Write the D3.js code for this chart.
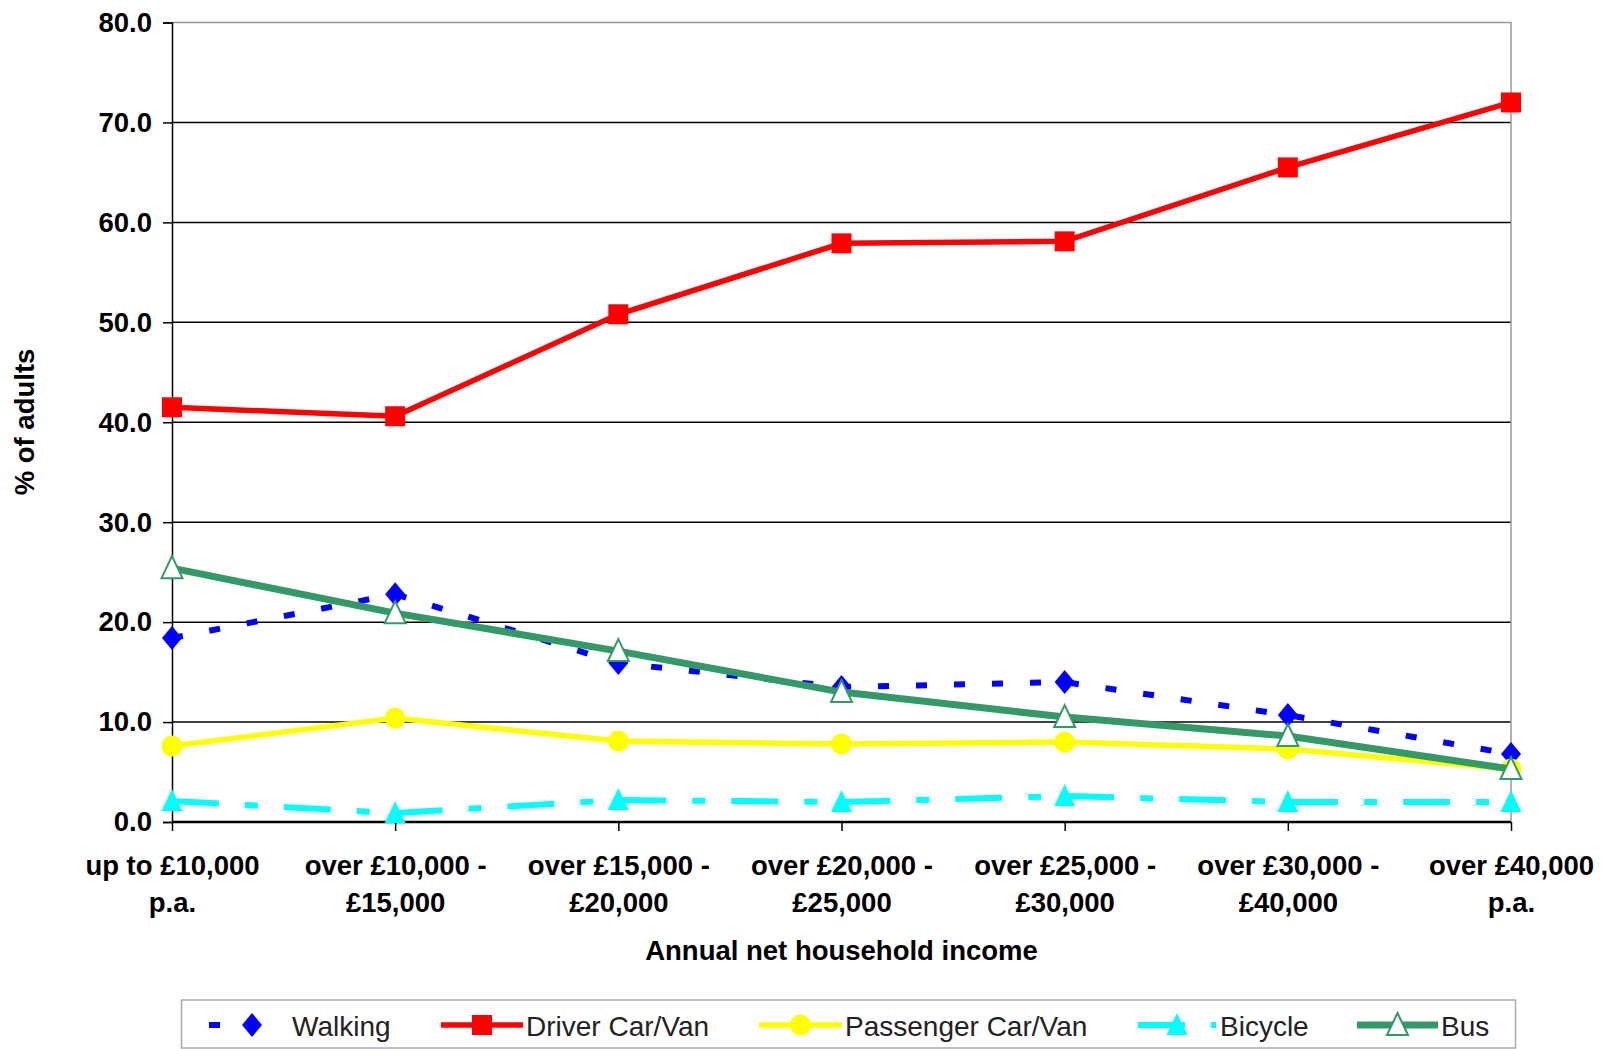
<!DOCTYPE html>
<html>
<head>
<meta charset="utf-8">
<script src="https://cdn.jsdelivr.net/npm/d3@7"></script>
<style>
  body { margin: 0; background: #fff; }
  svg { display: block; }
</style>
</head>
<body>
<svg width="1615" height="1049" font-family="Liberation Sans, Arial, sans-serif"></svg>
<script>
const categories = [
  ["up to £10,000", "p.a."],
  ["over £10,000 -", "£15,000"],
  ["over £15,000 -", "£20,000"],
  ["over £20,000 -", "£25,000"],
  ["over £25,000 -", "£30,000"],
  ["over £30,000 -", "£40,000"],
  ["over £40,000", "p.a."],
];
const walking = [18.4, 22.8, 15.9, 13.5, 14.0, 10.7, 6.8];
const driver = [41.5, 40.6, 50.8, 57.9, 58.1, 65.5, 72.0];
const passenger = [7.6, 10.4, 8.1, 7.8, 8.0, 7.3, 5.3];
const bicycle = [2.1, 0.9, 2.2, 2.0, 2.6, 2.0, 2.0];
const bus = [25.4, 20.9, 17.1, 13.0, 10.5, 8.6, 5.3];
const yTicks = [0, 10, 20, 30, 40, 50, 60, 70, 80];

const svg = d3.select("svg");
const margin = { top: 22.5, right: 104, bottom: 227, left: 172 };
const width = +svg.attr("width");
const height = +svg.attr("height");
const innerWidth = width - margin.left - margin.right;
const innerHeight = height - margin.top - margin.bottom;

const xScale = d3.scalePoint().domain(d3.range(categories.length)).range([0, innerWidth]);
const yScale = d3.scaleLinear().domain([0, 80]).range([innerHeight, 0]);

const g = svg.append("g").attr("transform", `translate(${margin.left},${margin.top})`);

// gridlines
g.selectAll("line.grid")
  .data(yTicks.filter((d) => d > 0 && d < 80))
  .enter()
  .append("line")
  .attr("class", "grid")
  .attr("x1", 0)
  .attr("x2", innerWidth)
  .attr("y1", (d) => yScale(d))
  .attr("y2", (d) => yScale(d))
  .attr("stroke", "#000")
  .attr("stroke-width", 1.5);

// plot border top / right
g.append("path")
  .attr("d", `M0,${yScale(80)}H${innerWidth}V${innerHeight}`)
  .attr("fill", "none")
  .attr("stroke", "#999")
  .attr("stroke-width", 1.5);

// y axis
const yAxis = g.append("g").call(
  d3.axisLeft(yScale).tickValues(yTicks).tickFormat(d3.format(".1f")).tickSize(9).tickPadding(11)
);
yAxis
  .attr("font-family", "Liberation Sans, Arial, sans-serif")
  .attr("font-size", 27.5)
  .attr("font-weight", "bold");
yAxis.select(".domain").attr("stroke", "#000").attr("stroke-width", 1.5);
yAxis.selectAll(".tick line").attr("stroke", "#000").attr("stroke-width", 1.5);

// x axis
const xAxis = g.append("g")
  .attr("transform", `translate(0,${innerHeight})`)
  .call(d3.axisBottom(xScale).tickSize(9).tickFormat(""));
xAxis
  .attr("font-family", "Liberation Sans, Arial, sans-serif")
  .attr("font-size", 27.5)
  .attr("font-weight", "bold");
xAxis.select(".domain").attr("d", `M0,0H${innerWidth}`).attr("stroke", "#000").attr("stroke-width", 2.5);
xAxis.selectAll(".tick line").attr("stroke", "#000").attr("stroke-width", 1.5);
xAxis.selectAll(".tick text").remove();
xAxis.selectAll(".tick").each(function (d) {
  const t = d3.select(this).append("text").attr("text-anchor", "middle").attr("fill", "#000");
  t.append("tspan").attr("x", 0).attr("y", 53).text(categories[d][0]);
  t.append("tspan").attr("x", 0).attr("y", 90).text(categories[d][1]);
});

// axis titles
svg.append("text")
  .attr("x", margin.left + innerWidth / 2)
  .attr("y", 960)
  .attr("text-anchor", "middle")
  .attr("font-weight", "bold")
  .attr("font-size", 27.5)
  .text("Annual net household income");

svg.append("text")
  .attr("transform", `translate(34,422) rotate(-90)`)
  .attr("text-anchor", "middle")
  .attr("font-weight", "bold")
  .attr("font-size", 27.5)
  .text("% of adults");

// marker shapes
const diamond = "M0,-12L10,0L0,12L-10,0Z";
const square = "M-10,-10H10V10H-10Z";
const triangle = "M0,-12L10.5,10L-10.5,10Z";
const circle = d3.symbol().type(d3.symbolCircle).size(Math.PI * 10.5 * 10.5)();

const series = [
  { name: "Walking", values: walking, color: "#0000ff", width: 6, dash: "11,27", marker: diamond, fill: "#0000ff", mstroke: "none" },
  { name: "Driver Car/Van", values: driver, color: "#ff0000", width: 5.5, dash: null, marker: square, fill: "#ff0000", mstroke: "none" },
  { name: "Passenger Car/Van", values: passenger, color: "#ffff00", width: 5.5, dash: null, marker: circle, fill: "#ffff00", mstroke: "none" },
  { name: "Bicycle", values: bicycle, color: "#00ffff", width: 6, dash: "47,26,13,26", marker: triangle, fill: "#00ffff", mstroke: "none" },
  { name: "Bus", values: bus, color: "#339966", width: 7, dash: null, marker: triangle, fill: "#ffffff", mstroke: "#339966" },
];

const line = d3.line().x((d, i) => xScale(i)).y((d) => yScale(d));

series.forEach((s) => {
  g.append("path")
    .datum(s.values)
    .attr("d", line)
    .attr("fill", "none")
    .attr("stroke", s.color)
    .attr("stroke-width", s.width)
    .attr("stroke-dasharray", s.dash);
  g.selectAll(null)
    .data(s.values)
    .enter()
    .append("path")
    .attr("d", s.marker)
    .attr("transform", (d, i) => `translate(${xScale(i)},${yScale(d)})`)
    .attr("fill", s.fill)
    .attr("stroke", s.mstroke)
    .attr("stroke-width", 2);
});

// legend
const legendLines = [[209, 284], [441, 523], [759, 842], [1138, 1216], [1357, 1438]];
const legendText = [292, 526, 845, 1220, 1441];
const legend = svg.append("g");
legend.append("rect")
  .attr("x", 181.5)
  .attr("y", 1000)
  .attr("width", 1334)
  .attr("height", 48)
  .attr("fill", "#fff")
  .attr("stroke", "#aaa")
  .attr("stroke-width", 1.5);
series.forEach((s, i) => {
  const [x1, x2] = legendLines[i];
  const cy = 1025;
  legend.append("line")
    .attr("x1", x1).attr("x2", x2).attr("y1", cy).attr("y2", cy)
    .attr("stroke", s.color)
    .attr("stroke-width", s.width)
    .attr("stroke-dasharray", s.dash);
  const cx = s.name === "Walking" ? 252 : s.name === "Bicycle" ? 1177 : (x1 + x2) / 2;
  legend.append("path")
    .attr("d", s.marker)
    .attr("transform", `translate(${cx},${cy})`)
    .attr("fill", s.fill)
    .attr("stroke", s.mstroke)
    .attr("stroke-width", 2);
  legend.append("text")
    .attr("x", legendText[i])
    .attr("y", 1036)
    .attr("font-size", 28)
    .attr("fill", "#222")
    .text(s.name);
});
</script>
</body>
</html>
